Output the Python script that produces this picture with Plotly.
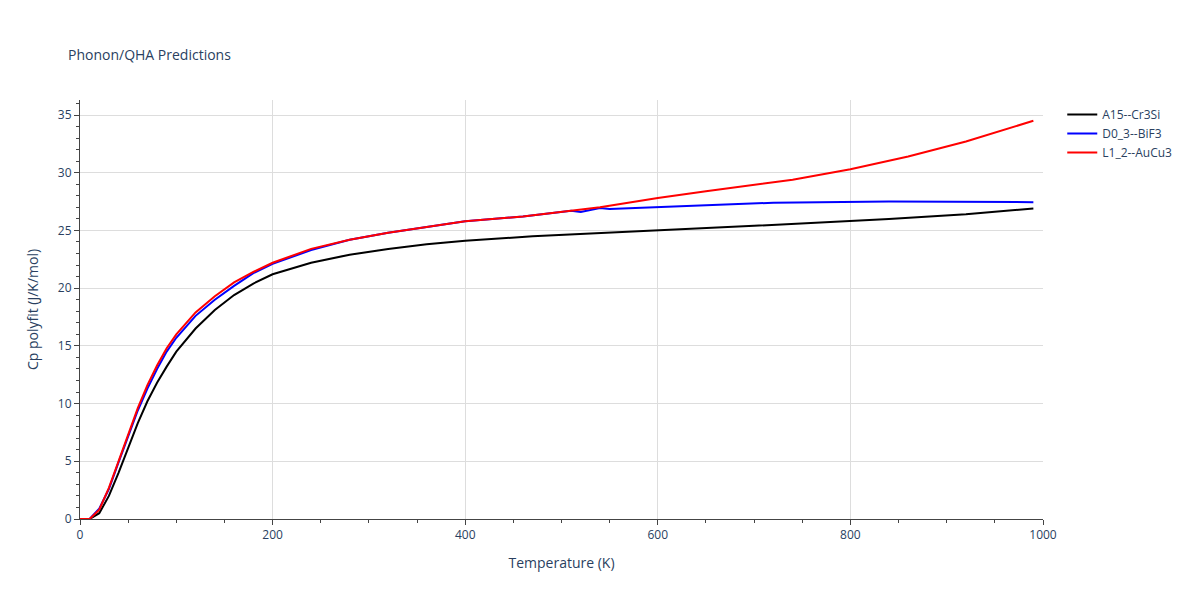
import plotly.graph_objects as go

a15_T = [0,10,20,30,40,50,60,70,80,90,100,120,140,160,180,200,240,280,320,360,400,470,600,700,840,920,990]
a15_cp = [0,0,0.5,2,4,6.2,8.3,10.2,11.8,13.2,14.5,16.5,18.1,19.4,20.4,21.2,22.2,22.9,23.4,23.8,24.1,24.5,25.0,25.4,26.0,26.4,26.9]
d03_T = [0,10,20,30,40,50,60,70,80,90,100,120,140,160,180,200,240,280,320,360,400,460,510,520,540,550,600,720,840,990]
d03_cp = [0,0,0.9,2.6,4.9,7.2,9.4,11.3,13.0,14.5,15.7,17.6,19.0,20.2,21.3,22.1,23.3,24.2,24.8,25.3,25.8,26.2,26.7,26.6,26.95,26.85,27.0,27.4,27.5,27.45]
l12_T = [0,10,20,30,40,50,60,70,80,90,100,120,140,160,180,200,240,280,320,360,400,460,540,600,650,740,800,860,920,990]
l12_cp = [0,0,0.8,2.7,5.0,7.3,9.6,11.6,13.3,14.8,16.0,17.9,19.3,20.5,21.4,22.2,23.4,24.2,24.8,25.3,25.8,26.2,27.0,27.8,28.4,29.4,30.3,31.4,32.7,34.5]

fig = go.Figure()
fig.add_trace(go.Scatter(x=a15_T, y=a15_cp, mode="lines", name="A15--Cr3Si", line=dict(color="black", width=2)))
fig.add_trace(go.Scatter(x=d03_T, y=d03_cp, mode="lines", name="D0_3--BiF3", line=dict(color="blue", width=2)))
fig.add_trace(go.Scatter(x=l12_T, y=l12_cp, mode="lines", name="L1_2--AuCu3", line=dict(color="red", width=2)))

axis_common = dict(showline=True, linecolor="#444", ticks="outside", ticklen=5, gridcolor="#ddd",
                   zeroline=False, minor=dict(ticks="outside", ticklen=3, showgrid=False))
fig.update_layout(
    template="plotly_white",
    width=1200, height=600,
    title=dict(text="Phonon/QHA Predictions", x=0.05, y=0.93, font=dict(size=14)),
    margin=dict(l=72, r=165, t=92, b=89),
    xaxis=dict(title="Temperature (K)", range=[0, 1000], dtick=200, **axis_common),
    yaxis=dict(title="Cp polyfit (J/K/mol)", range=[0, 36.3], dtick=5, **axis_common),
    legend=dict(x=1.02, y=1, font=dict(size=12)),
)
fig.write_html("out.html")
